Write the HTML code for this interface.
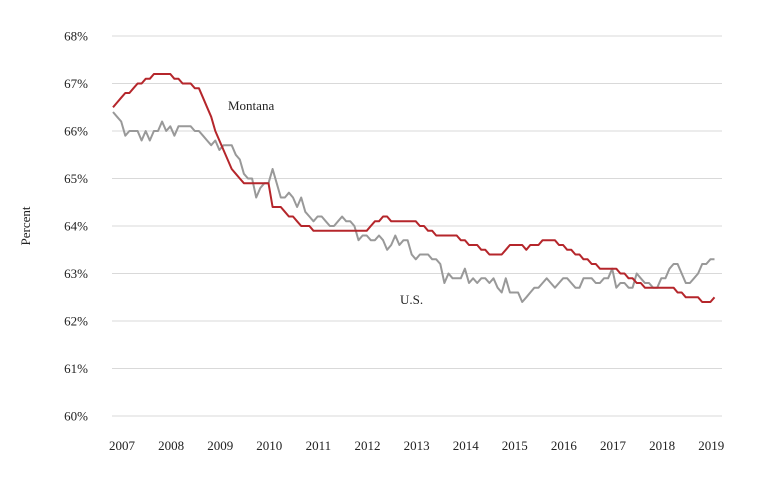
<!DOCTYPE html>
<html><head><meta charset="utf-8"><style>
body{margin:0;background:#fff}
svg{display:block;font-family:"Liberation Serif",serif;font-size:13px;fill:#222}
</style></head><body>
<svg id="chart" width="765" height="490" viewBox="0 0 765 490">
<g id="grid"></g><g id="labels"></g><g id="lines"></g>
<text transform="translate(30,226) rotate(-90)" text-anchor="middle">Percent</text>
<text x="228" y="110">Montana</text>
<text x="400" y="304">U.S.</text>
</svg>
<script>
const years=["2007","2008","2009","2010","2011","2012","2013","2014","2015","2016","2017","2018","2019"];
const yTicks=[60,61,62,63,64,65,66,67,68];
const montana=[66.5,66.6,66.7,66.8,66.8,66.9,67.0,67.0,67.1,67.1,67.2,67.2,
67.2,67.2,67.2,67.1,67.1,67.0,67.0,67.0,66.9,66.9,66.7,66.5,
66.3,66.0,65.8,65.6,65.4,65.2,65.1,65.0,64.9,64.9,64.9,64.9,
64.9,64.9,64.9,64.4,64.4,64.4,64.3,64.2,64.2,64.1,64.0,64.0,
64.0,63.9,63.9,63.9,63.9,63.9,63.9,63.9,63.9,63.9,63.9,63.9,
63.9,63.9,63.9,64.0,64.1,64.1,64.2,64.2,64.1,64.1,64.1,64.1,
64.1,64.1,64.1,64.0,64.0,63.9,63.9,63.8,63.8,63.8,63.8,63.8,
63.8,63.7,63.7,63.6,63.6,63.6,63.5,63.5,63.4,63.4,63.4,63.4,
63.5,63.6,63.6,63.6,63.6,63.5,63.6,63.6,63.6,63.7,63.7,63.7,
63.7,63.6,63.6,63.5,63.5,63.4,63.4,63.3,63.3,63.2,63.2,63.1,
63.1,63.1,63.1,63.1,63.0,63.0,62.9,62.9,62.8,62.8,62.7,62.7,
62.7,62.7,62.7,62.7,62.7,62.7,62.6,62.6,62.5,62.5,62.5,62.5,
62.4,62.4,62.4,62.5];
const us=[66.4,66.3,66.2,65.9,66.0,66.0,66.0,65.8,66.0,65.8,66.0,66.0,
66.2,66.0,66.1,65.9,66.1,66.1,66.1,66.1,66.0,66.0,65.9,65.8,
65.7,65.8,65.6,65.7,65.7,65.7,65.5,65.4,65.1,65.0,65.0,64.6,
64.8,64.9,64.9,65.2,64.9,64.6,64.6,64.7,64.6,64.4,64.6,64.3,
64.2,64.1,64.2,64.2,64.1,64.0,64.0,64.1,64.2,64.1,64.1,64.0,
63.7,63.8,63.8,63.7,63.7,63.8,63.7,63.5,63.6,63.8,63.6,63.7,
63.7,63.4,63.3,63.4,63.4,63.4,63.3,63.3,63.2,62.8,63.0,62.9,
62.9,62.9,63.1,62.8,62.9,62.8,62.9,62.9,62.8,62.9,62.7,62.6,
62.9,62.6,62.6,62.6,62.4,62.5,62.6,62.7,62.7,62.8,62.9,62.8,
62.7,62.8,62.9,62.9,62.8,62.7,62.7,62.9,62.9,62.9,62.8,62.8,
62.9,62.9,63.1,62.7,62.8,62.8,62.7,62.7,63.0,62.9,62.8,62.8,
62.7,62.7,62.9,62.9,63.1,63.2,63.2,63.0,62.8,62.8,62.9,63.0,
63.2,63.2,63.3,63.3];
const NS="http://www.w3.org/2000/svg";
const x0=113,yearW=49.1;
function xs(i){return x0+i*yearW/12;}
function ys(v){return 416-(v-60)*47.5;}
const grid=document.getElementById('grid'),labels=document.getElementById('labels'),lines=document.getElementById('lines');
yTicks.forEach(t=>{
  const l=document.createElementNS(NS,'line');
  
  
  l.setAttribute('x1',112);l.setAttribute('x2',722);l.setAttribute('y1',ys(t));l.setAttribute('y2',ys(t));
  l.setAttribute('stroke','#d9d9d9');l.setAttribute('stroke-width','1');
  grid.appendChild(l);
  const tx=document.createElementNS(NS,'text');
  
  
  tx.setAttribute('x',88);tx.setAttribute('y',ys(t)+4.5);tx.setAttribute('text-anchor','end');
  tx.textContent=t+'%';labels.appendChild(tx);
});
years.forEach((yr,i)=>{
  const tx=document.createElementNS(NS,'text');
  
  
  tx.setAttribute('x',xs(i*12)+9);tx.setAttribute('y',450);tx.setAttribute('text-anchor','middle');
  tx.textContent=yr;labels.appendChild(tx);
});
function draw(arr,color,name){
  const p=document.createElementNS(NS,'path');
  
  
  p.setAttribute('d',arr.map((v,i)=>(i?'L':'M')+xs(i).toFixed(1)+','+ys(v).toFixed(1)).join(''));
  p.setAttribute('fill','none');p.setAttribute('stroke',color);p.setAttribute('stroke-width','2');
  p.setAttribute('stroke-linejoin','round');
  lines.appendChild(p);
}
draw(us,'#999999','us-line');
draw(montana,'#b5262b','montana-line');
</script>
</body></html>
